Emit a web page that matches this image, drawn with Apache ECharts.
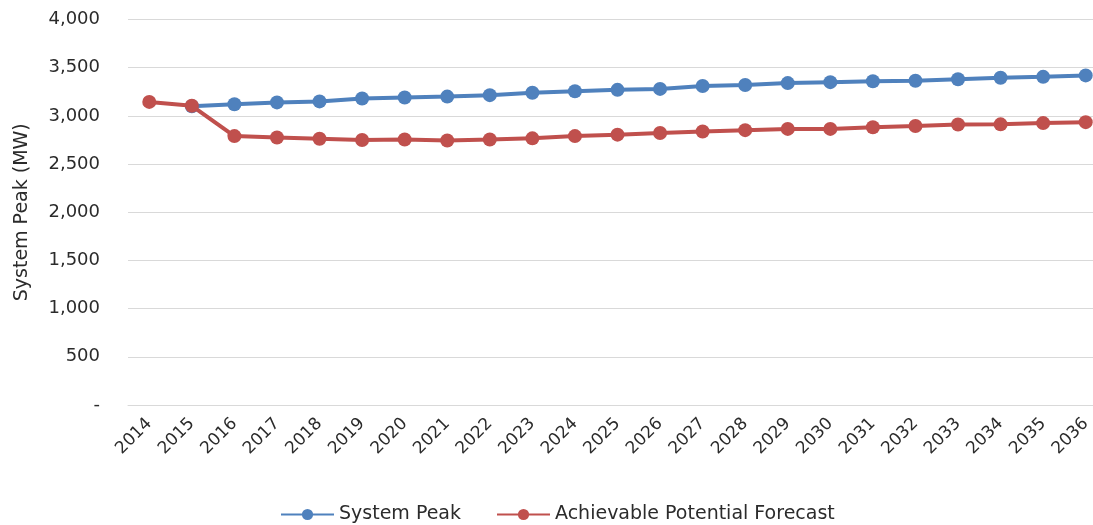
<!DOCTYPE html>
<html>
<head>
<meta charset="utf-8">
<script src="https://cdn.jsdelivr.net/npm/echarts@6/dist/echarts.min.js"></script>
<style>
html,body{margin:0;padding:0;background:#fff;}
#chart{width:1093px;height:525px;}
</style>
</head>
<body>
<div id="chart"></div>
<script>
const years = ['2014','2015','2016','2017','2018','2019','2020','2021','2022','2023','2024','2025','2026','2027','2028','2029','2030','2031','2032','2033','2034','2035','2036'];
const systemPeak = [null,3100,3120,3140,3150,3180,3190,3200,3215,3240,3255,3270,3280,3310,3320,3340,3350,3360,3365,3380,3395,3405,3420];
const achievable = [3145,3105,2790,2775,2763,2750,2755,2745,2755,2767,2790,2805,2822,2838,2852,2865,2865,2882,2895,2910,2912,2925,2935];
const yTicks = ['-','500','1,000','1,500','2,000','2,500','3,000','3,500','4,000'];

const FONT = '"DejaVu Sans", sans-serif';
const TXT = '#2b2b2b';
const chart = echarts.init(document.getElementById('chart'));
chart.setOption({
  animation: false,
  backgroundColor: '#ffffff',
  grid: {left: 128, width: 979, top: 19.5, height: 385.5, containLabel: false, outerBoundsMode: 'none'},
  xAxis: {
    type: 'category',
    data: years,
    boundaryGap: true,
    axisLine: {show: true, lineStyle: {color: '#d9d9d9', width: 1}},
    axisTick: {show: false},
    axisLabel: {rotate: 45, color: TXT, fontFamily: FONT, fontSize: 17, margin: 16, interval: 0}
  },
  yAxis: {
    type: 'value',
    min: 0, max: 4000, interval: 500,
    name: 'System Peak (MW)',
    nameLocation: 'middle',
    nameGap: 96,
    nameTextStyle: {color: TXT, fontFamily: FONT, fontSize: 19},
    axisLine: {show: false},
    axisTick: {show: false},
    splitLine: {lineStyle: {color: '#d9d9d9', width: 1}},
    axisLabel: {
      color: TXT, fontFamily: FONT, fontSize: 18, margin: 28,
      formatter: function (v) { return yTicks[Math.round(v / 500)]; }
    }
  },
  legend: {
    top: 500,
    left: 275,
    itemWidth: 53,
    itemHeight: 14,
    itemGap: 35,
    textStyle: {color: TXT, fontFamily: FONT, fontSize: 19},
    data: ['System Peak', 'Achievable Potential Forecast']
  },
  series: [
    {
      name: 'System Peak', type: 'line', data: systemPeak,
      color: '#4F81BD',
      lineStyle: {width: 4, color: '#4F81BD'},
      itemStyle: {color: '#4F81BD'},
      symbol: 'circle', symbolSize: 14, z: 2
    },
    {
      name: 'Achievable Potential Forecast', type: 'line', data: achievable,
      color: '#C0504D',
      lineStyle: {width: 4, color: '#C0504D'},
      itemStyle: {color: '#C0504D'},
      symbol: 'circle', symbolSize: 14, z: 3
    }
  ]
});
</script>
</body>
</html>
